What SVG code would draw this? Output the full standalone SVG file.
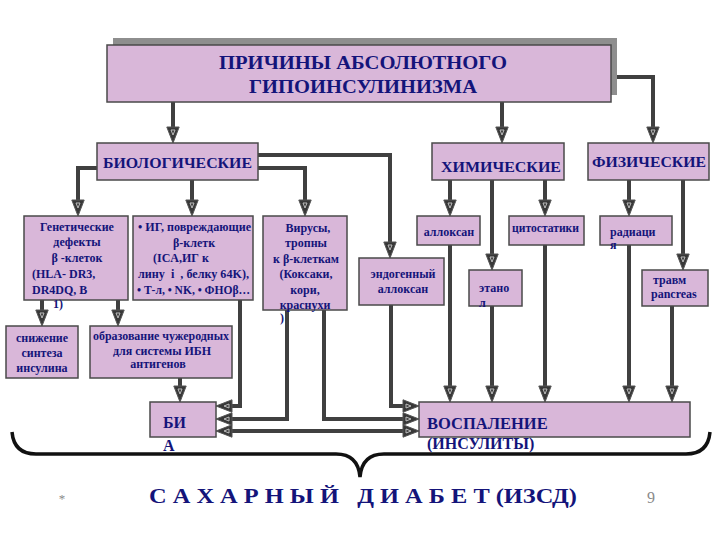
<svg xmlns="http://www.w3.org/2000/svg" width="720" height="540" viewBox="0 0 720 540">
<style>
.box{fill:#d9b7d9;stroke:#4a4a4a;stroke-width:1.5}
.t{font-family:"Liberation Serif","Times New Roman",serif;font-weight:bold;fill:#14147a}
.s{font-size:12px}
.m{font-size:15px}
.c{text-anchor:middle}
.ln{fill:none;stroke:#404040;stroke-width:4}
</style>
<defs>
<marker id="a" markerUnits="userSpaceOnUse" viewBox="0 0 18 14" markerWidth="18" markerHeight="14" refX="9" refY="7" orient="auto">
<path d="M1,0.8 L17,7 L1,13.2 Z" fill="#383838" stroke="#555" stroke-width="1"/>
<path d="M4,5 L9,7 L4,9 Z" fill="none" stroke="#c8c8c8" stroke-width="0.9"/>
</marker>
<marker id="as" markerUnits="userSpaceOnUse" viewBox="0 0 18 14" markerWidth="18" markerHeight="14" refX="9" refY="7" orient="auto-start-reverse">
<path d="M1,0.8 L17,7 L1,13.2 Z" fill="#383838" stroke="#555" stroke-width="1"/>
<path d="M4,5 L9,7 L4,9 Z" fill="none" stroke="#c8c8c8" stroke-width="0.9"/>
</marker>
</defs>

<g id="connectors">
<path class="ln" d="M611,77 H653 V135" marker-end="url(#a)"/>
<path class="ln" d="M173,102 V135" marker-end="url(#a)"/>
<path class="ln" d="M502,102 V135" marker-end="url(#a)"/>
<path class="ln" d="M97,168 H78 V208" marker-end="url(#a)"/>
<path class="ln" d="M192,180 V208" marker-end="url(#a)"/>
<path class="ln" d="M258,168 H305 V208" marker-end="url(#a)"/>
<path class="ln" d="M258,155 H390 V250" marker-end="url(#a)"/>
<path class="ln" d="M450,180 V208" marker-end="url(#a)"/>
<path class="ln" d="M492,180 V262" marker-end="url(#a)"/>
<path class="ln" d="M545,180 V208" marker-end="url(#a)"/>
<path class="ln" d="M629,180 V208" marker-end="url(#a)"/>
<path class="ln" d="M683,180 V262" marker-end="url(#a)"/>
<path class="ln" d="M42,300 V318" marker-end="url(#a)"/>
<path class="ln" d="M118,300 V318" marker-end="url(#a)"/>
<path class="ln" d="M180,378 V394" marker-end="url(#a)"/>
<path class="ln" d="M240,300 V406 H224" marker-end="url(#a)"/>
<path class="ln" d="M287,310 V419 H224" marker-end="url(#a)"/>
<path class="ln" d="M324,310 V419 H411" marker-end="url(#a)"/>
<path class="ln" d="M391,305 V406 H411" marker-end="url(#a)"/>
<path class="ln" d="M224,431 H411" marker-start="url(#as)" marker-end="url(#as)"/>
<path class="ln" d="M450,245 V394" marker-end="url(#a)"/>
<path class="ln" d="M492,306 V394" marker-end="url(#a)"/>
<path class="ln" d="M545,245 V394" marker-end="url(#a)"/>
<path class="ln" d="M629,245 V394" marker-end="url(#a)"/>
<path class="ln" d="M672,306 V394" marker-end="url(#a)"/>
</g>

<g id="title">
<rect x="113" y="38" width="504" height="57" fill="#8e8e8e"/>
<rect class="box" x="107" y="45" width="504" height="57"/>
<text class="t" x="219" y="69" font-size="18.5" textLength="288" lengthAdjust="spacingAndGlyphs">ПРИЧИНЫ АБСОЛЮТНОГО</text>
<text class="t" x="249" y="93" font-size="18.5" textLength="228" lengthAdjust="spacingAndGlyphs">ГИПОИНСУЛИНИЗМА</text>
</g>

<g id="bio">
<rect class="box" x="97" y="143" width="161" height="37"/>
<text class="t m" x="103" y="168" textLength="149" lengthAdjust="spacingAndGlyphs">БИОЛОГИЧЕСКИЕ</text>
</g>
<g id="chem">
<rect class="box" x="432" y="143" width="132" height="37"/>
<text class="t m" x="441" y="172" textLength="120" lengthAdjust="spacingAndGlyphs">ХИМИЧЕСКИЕ</text>
</g>
<g id="phys">
<rect class="box" x="588" y="143" width="121" height="37"/>
<text class="t m" x="592" y="167" textLength="114" lengthAdjust="spacingAndGlyphs">ФИЗИЧЕСКИЕ</text>
</g>

<g id="genetic">
<rect class="box" x="24" y="216" width="104" height="84"/>
<text class="t s c" x="77" y="231">Генетические</text>
<text class="t s c" x="77" y="246">дефекты</text>
<text class="t s c" x="77" y="262">β -клеток</text>
<text class="t s" x="32" y="278">(HLA- DR3,</text>
<text class="t s" x="32" y="294">DR4DQ, B</text>
<text class="t s" x="53" y="308">1)</text>
</g>

<g id="ig">
<rect class="box" x="133" y="216" width="120" height="84"/>
<text class="t s" x="138" y="231" textLength="113" lengthAdjust="spacingAndGlyphs">• ИГ, повреждающие</text>
<text class="t s" x="173" y="247">β-клетк</text>
<text class="t s" x="153" y="262">(ICA,ИГ к</text>
<text class="t s" x="138" y="278" textLength="111" lengthAdjust="spacingAndGlyphs" xml:space="preserve">лину  i  , белку 64K),</text>
<text class="t s" x="137" y="294" textLength="113" lengthAdjust="spacingAndGlyphs">• Т-л, • NK, • ФНОβ…</text>
</g>

<g id="virus">
<rect class="box" x="263" y="216" width="84" height="94"/>
<text class="t s c" x="308" y="232">Вирусы,</text>
<text class="t s c" x="306" y="247">тропны</text>
<text class="t s c" x="306" y="263">к β-клеткам</text>
<text class="t s c" x="306" y="278">(Коксаки,</text>
<text class="t s c" x="305" y="294">кори,</text>
<text class="t s c" x="305" y="309">краснухи</text>
<text class="t s" x="280" y="322">)</text>
</g>

<g id="endo">
<rect class="box" x="359" y="258" width="85" height="47"/>
<text class="t s c" x="403" y="278">эндогенный</text>
<text class="t s c" x="403" y="293">аллоксан</text>
</g>

<g id="alloxan">
<rect class="box" x="417" y="216" width="63" height="29"/>
<text class="t s c" x="449" y="236">аллоксан</text>
</g>

<g id="cyto">
<rect class="box" x="509" y="216" width="75" height="29"/>
<text class="t s" x="512" y="232" textLength="67" lengthAdjust="spacingAndGlyphs">цитостатики</text>
</g>

<g id="rad">
<rect class="box" x="600" y="216" width="72" height="29"/>
<text class="t s" x="610" y="236">радиаци</text>
<text class="t s" x="610" y="249">я</text>
</g>

<g id="ethanol">
<rect class="box" x="469" y="270" width="53" height="36"/>
<text class="t s" x="479" y="292">этано</text>
<text class="t s" x="479" y="307">л</text>
</g>

<g id="trauma">
<rect class="box" x="642" y="270" width="66" height="36"/>
<text class="t s" x="653" y="284">травм</text>
<text class="t s" x="651" y="298">pancreas</text>
</g>

<g id="reduce">
<rect class="box" x="6" y="326" width="72" height="52"/>
<text class="t s c" x="42" y="342">снижение</text>
<text class="t s c" x="42" y="357">синтеза</text>
<text class="t s c" x="42" y="372">инсулина</text>
</g>

<g id="formation">
<rect class="box" x="90" y="326" width="142" height="52"/>
<text class="t s" x="93" y="340" textLength="136" lengthAdjust="spacingAndGlyphs">образование чужеродных</text>
<text class="t s c" x="162" y="355">для системы ИБН</text>
<text class="t s c" x="158" y="368">антигенов</text>
</g>

<g id="bia">
<rect class="box" x="150" y="402" width="66" height="35"/>
<text class="t" x="163" y="428" font-size="16">БИ</text>
<text class="t" x="163" y="451" font-size="16">А</text>
</g>

<g id="inflam">
<rect class="box" x="419" y="402" width="271" height="35"/>
<text class="t" x="427" y="429" font-size="16.5">ВОСПАЛЕНИЕ</text>
<text class="t" x="427" y="449" font-size="16">(ИНСУЛИТЫ)</text>
</g>

<g id="brace">
<path d="M12,432 Q14,454 36,454 H336 Q358,454 360,477 Q362,454 384,454 H686 Q708,454 710,432" fill="none" stroke="#111" stroke-width="3.5"/>
</g>

<g id="footer">
<text class="t" x="149" y="503" font-size="22" textLength="428" lengthAdjust="spacingAndGlyphs" xml:space="preserve">С А Х А Р Н Ы Й   Д И А Б Е Т (ИЗСД)</text>
<text x="62" y="503" font-family="Liberation Serif, serif" font-size="13" fill="#8a8a8a" text-anchor="middle">*</text>
<text x="651" y="503" font-family="Liberation Serif, serif" font-size="16" fill="#8a8a8a" text-anchor="middle">9</text>
</g>
</svg>
